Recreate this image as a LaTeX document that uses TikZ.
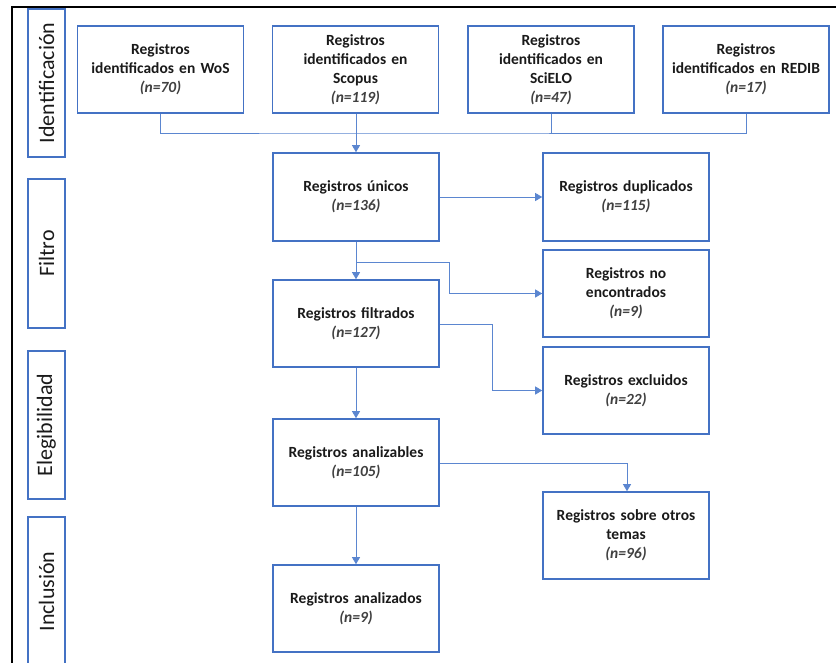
\documentclass[tikz,border=0pt]{standalone}
\usepackage{fontspec}
\setmainfont{Carlito}
\usetikzlibrary{arrows.meta}
\definecolor{boxblue}{HTML}{4472C4}
\definecolor{linkblue}{HTML}{5B86D0}
\definecolor{txt}{HTML}{1A1A1A}
\definecolor{ntxt}{HTML}{404040}
\newcommand{\nn}[1]{{\color{ntxt}\itshape (n=#1)}}
\begin{document}
\begin{tikzpicture}[x=1pt,y=-1pt,
  box/.style={draw=boxblue,line width=1.6pt,minimum width=166pt,minimum height=87pt,inner sep=2pt,align=center,text width=160pt,
    font=\fontsize{15.5}{19}\selectfont\bfseries,text=txt},
  phase/.style={draw=boxblue,line width=1.6pt,minimum width=37pt,inner sep=0pt,font=\fontsize{22}{26}\selectfont,text=txt},
  link/.style={draw=linkblue,line width=0.9pt},
  arr/.style={link,-{Triangle[width=8pt,length=7pt]}}]
\useasboundingbox (0,0) rectangle (836,662);
\begin{scope}
\clip (0,0) rectangle (836,662);
% outer frame
\draw[line width=2.4pt] (12,700) -- (12,7) -- (900,7);
% phase boxes
\node[phase,minimum height=148pt] (p1) at (46.5,83) {};
\node[rotate=90,font=\fontsize{22}{26}\selectfont,text=txt] (t1) at (p1.center) {Identificación};
\node[phase,minimum height=149pt] (p2) at (46.5,253.5) {};
\node[rotate=90,font=\fontsize{22}{26}\selectfont,text=txt] (t2) at (p2.center) {Filtro};
\node[phase,minimum height=148pt] (p3) at (46.5,425) {};
\node[rotate=90,font=\fontsize{22}{26}\selectfont,text=txt] (t3) at (p3.center) {Elegibilidad};
\node[phase,minimum height=149pt] (p4) at (46.5,591.5) {};
\node[rotate=90,font=\fontsize{22}{26}\selectfont,text=txt] (t4) at (p4.center) {Inclusión};
\end{scope}
% top row
\node[box] (wos) at (160.5,69.5) {Registros\\identificados en WoS\\\nn{70}};
\node[box] (scopus) at (355.5,69.5) {Registros\\identificados en\\Scopus\\\nn{119}};
\node[box] (scielo) at (551,69.5) {Registros\\identificados en\\SciELO\\\nn{47}};
\node[box] (redib) at (746,69.5) {Registros\\identificados en REDIB\\\nn{17}};
% main column
\node[box,minimum height=88pt] (unicos) at (356,197) {Registros únicos\\\nn{136}};
\node[box] (filtrados) at (356,323.5) {Registros filtrados\\\nn{127}};
\node[box] (analizables) at (356,462.5) {Registros analizables\\\nn{105}};
\node[box] (analizados) at (356,608.5) {Registros analizados\\\nn{9}};
% right column
\node[box,minimum height=88pt] (dup) at (626,197) {Registros duplicados\\\nn{115}};
\node[box] (noenc) at (626,293.5) {Registros no\\encontrados\\\nn{9}};
\node[box] (excl) at (626,390.5) {Registros excluidos\\\nn{22}};
\node[box] (otros) at (626,535.5) {Registros sobre otros\\temas\\\nn{96}};
% connectors
\coordinate (j1) at (356,133);
\draw[link] (wos.south) |- (j1) -| (redib.south);
\draw[link] (scielo.south) -- (scielo.south |- j1);
\draw[arr] (scopus.south -| unicos.north) -- (unicos.north);
\draw[arr] (unicos.east) -- (dup.west);
\draw[arr] (unicos.south) -- (filtrados.north);
\coordinate (j2) at (356,262);
\coordinate (k2) at (449,262);
\draw[arr] (j2) -- (k2) |- (noenc.west);
\coordinate (k3) at (492,324);
\draw[arr] (filtrados.east |- k3) -- (k3) |- (excl.west);
\draw[arr] (filtrados.south) -- (analizables.north);
\coordinate (k4) at (627,463);
\draw[arr] (analizables.east |- k4) -- (k4) -- (k4 |- otros.north);
\draw[arr] (analizables.south) -- (analizados.north);
\end{tikzpicture}
\end{document}
